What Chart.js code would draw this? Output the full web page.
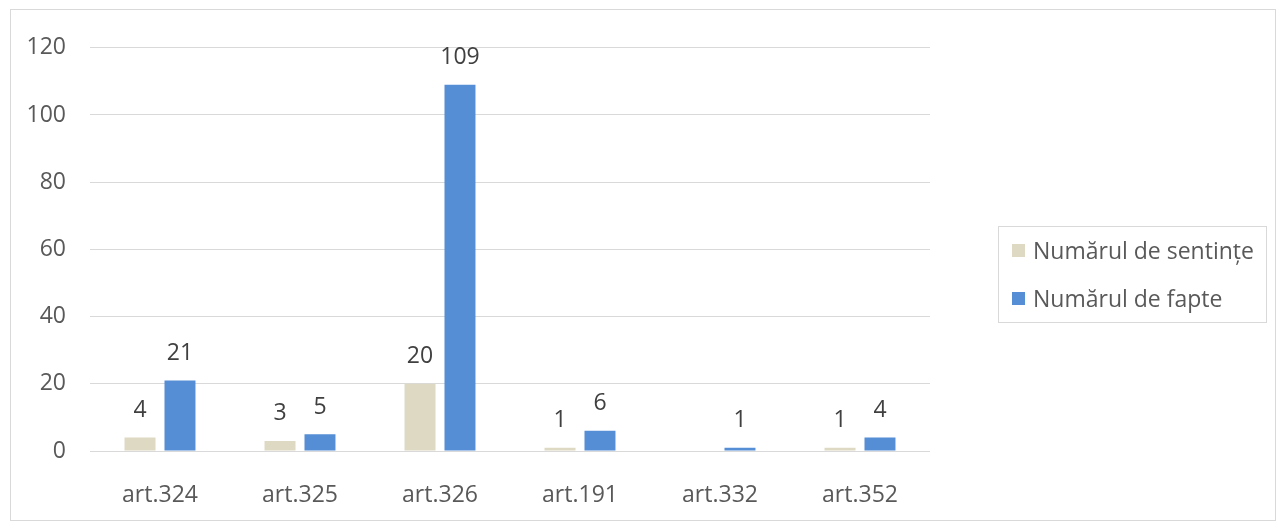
<!DOCTYPE html>
<html>
<head>
<meta charset="utf-8">
<script src="https://cdn.jsdelivr.net/npm/chart.js@4.4.0/dist/chart.umd.min.js"></script>
<style>
  body { margin: 0; background: #fff; font-family: "Open Sans", sans-serif; }
  #frame { position: absolute; left: 10px; top: 9px; width: 1264px; height: 510px; border: 1px solid #d9d9d9; }
  #legend { position: absolute; left: 998px; top: 226px; width: 269px; height: 97px; border: 1px solid #d9d9d9; box-sizing: border-box; color: #595959; font-size: 23px; }
  .item { position: absolute; left: 13px; display: flex; align-items: center; white-space: nowrap; }
  .sw { width: 13px; height: 13px; margin-right: 8px; }
</style>
</head>
<body>
<div id="frame"><canvas id="chart"></canvas></div>
<div id="legend"></div>
<script>
// date cua bieu do
const categories = ["art.324", "art.325", "art.326", "art.191", "art.332", "art.352"];
const sentinte = [4, 3, 20, 1, null, 1];
const fapte = [21, 5, 109, 6, 1, 4];
const seriesNames = ["Numărul de sentințe", "Numărul de fapte"];
const colors = ["#DDD9C3", "#558ED5"];
const yTicks = [0, 20, 40, 60, 80, 100, 120];

const textColor = "#595959";

/** ve nhan gia tri tren cot */
const valueLabels = {
    id: "valueLabels",
    afterDatasetsDraw(chart) {
        const ctx = chart.ctx;
        ctx.save();
        ctx.font = "23px 'Open Sans'";
        ctx.fillStyle = "#404040";
        ctx.textAlign = "center";
        ctx.textBaseline = "middle";
        chart.data.datasets.forEach((ds, i) => {
            const meta = chart.getDatasetMeta(i);
            meta.data.forEach((bar, j) => {
                if (ds.data[j] == null) return;
                ctx.fillText(ds.data[j], bar.x, bar.y - 27);
            });
        });
        ctx.restore();
    }
};

new Chart("chart", {
    type: "bar",
    data: {
        labels: categories,
        datasets: [{
            label: seriesNames[0],
            data: sentinte,
            backgroundColor: colors[0],
            categoryPercentage: 0.571,
            barPercentage: 0.775
        }, {
            label: seriesNames[1],
            data: fapte,
            backgroundColor: colors[1],
            categoryPercentage: 0.571,
            barPercentage: 0.775
        }]
    },
    options: {
        responsive: true,
        maintainAspectRatio: false,
        animation: false,
        layout: { padding: { left: 0, right: 345, top: 33, bottom: 0 } },
        plugins: { legend: { display: false }, tooltip: { enabled: false } },
        scales: {
            x: {
                grid: { display: false },
                border: { display: false },
                ticks: { color: textColor, font: { family: "Open Sans", size: 23 }, padding: 23 },
                afterFit(scale) { scale.height = 69; }
            },
            y: {
                min: 0,
                max: 120,
                afterBuildTicks(scale) { scale.ticks = yTicks.map(v => ({ value: v })); },
                grid: { color: "#d9d9d9", lineWidth: 1, drawTicks: false },
                border: { display: false },
                ticks: { color: textColor, font: { family: "Open Sans", size: 23 }, padding: 24 },
                afterFit(scale) { scale.width = 79; }
            }
        }
    },
    plugins: [valueLabels]
});

// chu thich
const legend = document.getElementById("legend");
seriesNames.forEach((name, i) => {
    const it = document.createElement("div");
    it.className = "item";
    it.style.top = (i === 0 ? 7 : 55) + "px";
    const sw = document.createElement("span");
    sw.className = "sw";
    sw.style.background = colors[i];
    it.appendChild(sw);
    const t = document.createElement("span");
    t.innerText = name;
    it.appendChild(t);
    legend.appendChild(it);
});
</script>
</body>
</html>
